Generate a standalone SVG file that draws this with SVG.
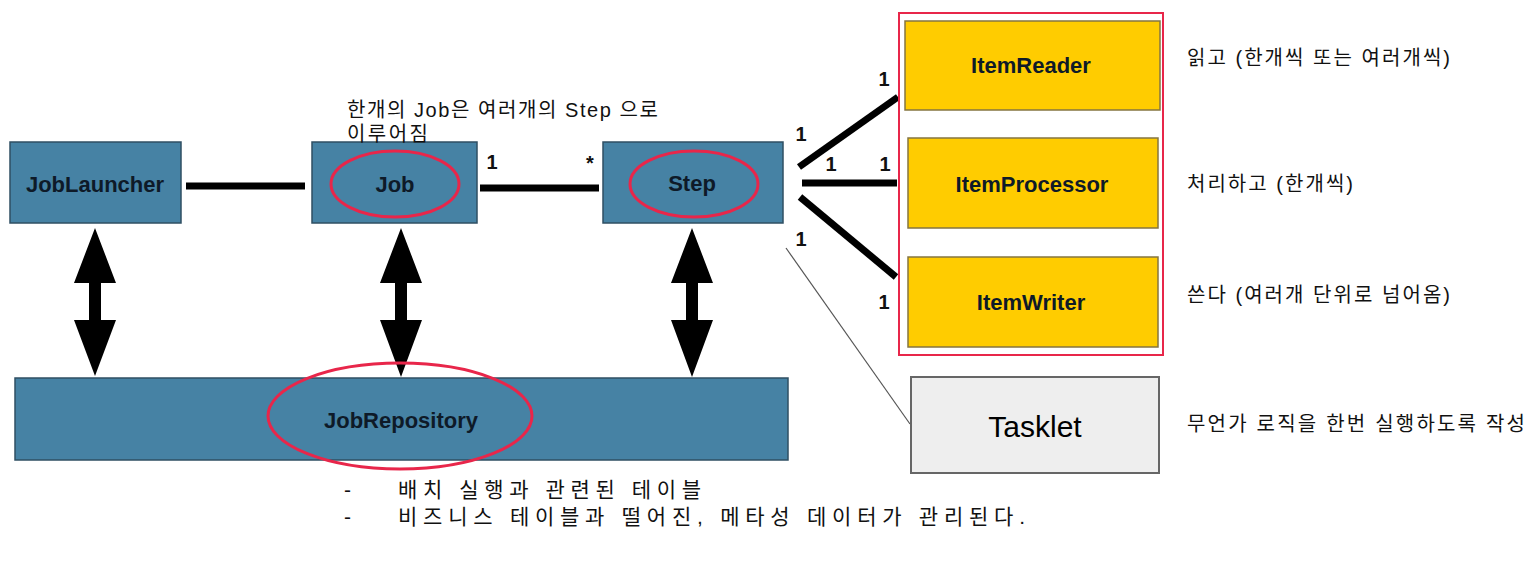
<svg xmlns="http://www.w3.org/2000/svg" width="1535" height="561" viewBox="0 0 1535 561">
<style>
.blue{fill:#4682A4;stroke:#2f4f63;stroke-width:1.5}
.yel{fill:#FFCC00;stroke:#857540;stroke-width:1.5}
.lbl{font-family:"Liberation Sans",Arial,sans-serif;font-weight:bold;font-size:22px;fill:#0e1a28;text-anchor:middle}
.num{font-family:"Liberation Sans",Arial,sans-serif;font-weight:bold;font-size:20px;fill:#111;text-anchor:middle}
.kr{font-family:"Liberation Sans","Noto Sans CJK KR",sans-serif;font-size:20px;fill:#111}
.kb{font-family:"Liberation Sans","Noto Sans CJK KR",sans-serif;font-size:21px;fill:#111}
.ring{fill:none;stroke:#E8264A;stroke-width:3}
.thick{stroke:#000;stroke-width:7;fill:none}
.dbl{fill:#000}
</style>
<rect width="1535" height="561" fill="#fff"/>
<g id="connectors">
  <line class="thick" x1="186" y1="186" x2="305" y2="186"/>
  <line class="thick" x1="480" y1="188" x2="599" y2="188"/>
  <line class="thick" x1="799" y1="167" x2="898" y2="97"/>
  <line class="thick" x1="802" y1="183" x2="897" y2="183"/>
  <line class="thick" x1="800" y1="197" x2="896" y2="277"/>
  <line x1="786" y1="248" x2="910" y2="424" stroke="#555" stroke-width="1.2"/>
  <polygon class="dbl" points="95,228 116,283 101,283 101,320 116,320 95,376 74,320 89,320 89,283 74,283"/>
  <polygon class="dbl" points="401,228 422,283 407,283 407,320 422,320 401,377 380,320 395,320 395,283 380,283"/>
  <polygon class="dbl" points="692,228 713,283 698,283 698,320 713,320 692,377 671,320 686,320 686,283 671,283"/>
  <text class="num" x="492" y="169">1</text>
  <text class="num" x="590" y="170">*</text>
  <text class="num" x="884" y="86">1</text>
  <text class="num" x="801" y="141">1</text>
  <text class="num" x="831" y="171">1</text>
  <text class="num" x="885" y="171">1</text>
  <text class="num" x="801" y="246">1</text>
  <text class="num" x="884" y="309">1</text>
</g>
<g id="joblauncher">
  <rect class="blue" x="10" y="142" width="171" height="81"/>
  <text class="lbl" x="95" y="192">JobLauncher</text>
</g>
<g id="job">
  <rect class="blue" x="312" y="142" width="165" height="81"/>
  <text class="lbl" x="395" y="192">Job</text>
  <ellipse class="ring" cx="395" cy="184" rx="64" ry="33"/>
</g>
<g id="step">
  <rect class="blue" x="603" y="142" width="180" height="81"/>
  <text class="lbl" x="692" y="191">Step</text>
  <ellipse class="ring" cx="694" cy="184" rx="64" ry="33"/>
</g>
<g id="jobrepository">
  <rect class="blue" x="15" y="378" width="773" height="82"/>
  <text class="lbl" x="401" y="428">JobRepository</text>
  <ellipse class="ring" cx="400" cy="416" rx="132" ry="53"/>
</g>
<g id="itemgroup">
  <rect x="899" y="13" width="264" height="342" fill="none" stroke="#E8264A" stroke-width="2"/>
</g>
<g id="itemreader">
  <rect class="yel" x="905" y="21" width="255" height="89"/>
  <text class="lbl" x="1031" y="73">ItemReader</text>
</g>
<g id="itemprocessor">
  <rect class="yel" x="908" y="138" width="250" height="90"/>
  <text class="lbl" x="1032" y="192">ItemProcessor</text>
</g>
<g id="itemwriter">
  <rect class="yel" x="908" y="257" width="250" height="90"/>
  <text class="lbl" x="1031" y="310">ItemWriter</text>
</g>
<g id="tasklet">
  <rect x="911" y="377" width="248" height="96" fill="#eeeeee" stroke="#666" stroke-width="2"/>
  <text x="1035" y="437" font-family="Liberation Sans,Arial,sans-serif" font-size="30" fill="#000" text-anchor="middle">Tasklet</text>
</g>
<g id="notes">
  <text class="kr" x="347" y="117" textLength="311" lengthAdjust="spacing">한개의 Job은 여러개의 Step 으로</text>
  <text class="kr" x="347" y="141" textLength="81" lengthAdjust="spacing">이루어짐</text>
  <text class="kr" x="1187" y="65" textLength="263" lengthAdjust="spacing">읽고 (한개씩 또는 여러개씩)</text>
  <text class="kr" x="1187" y="191" textLength="166" lengthAdjust="spacing">처리하고 (한개씩)</text>
  <text class="kr" x="1187" y="302" textLength="263" lengthAdjust="spacing">쓴다 (여러개 단위로 넘어옴)</text>
  <text class="kr" x="1187" y="431" textLength="338" lengthAdjust="spacing">무언가 로직을 한번 실행하도록 작성</text>
  <text class="kb" x="344" y="497">-</text>
  <text class="kb" x="398" y="497" textLength="303" lengthAdjust="spacing">배치 실행과 관련된 테이블</text>
  <text class="kb" x="344" y="524">-</text>
  <text class="kb" x="398" y="524" textLength="627" lengthAdjust="spacing">비즈니스 테이블과 떨어진, 메타성 데이터가 관리된다.</text>
</g>
</svg>
